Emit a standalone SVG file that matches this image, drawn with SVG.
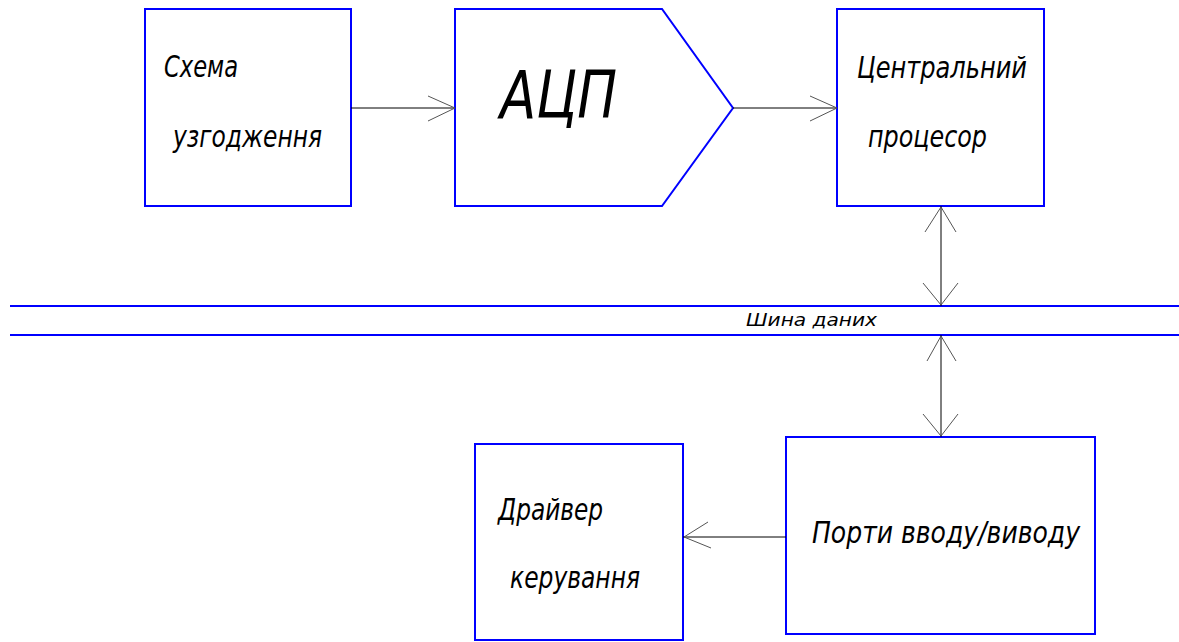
<svg xmlns="http://www.w3.org/2000/svg" width="1179" height="642" viewBox="0 0 1179 642">
<style>
.box{fill:#fff;stroke:#0000ff;stroke-width:2}
.bus{stroke:#0000ff;stroke-width:2;fill:none}
.ln{stroke:#000;stroke-width:1;fill:none}
.ah{stroke:#555;stroke-width:1;fill:none}
.t{font-family:"Liberation Sans Narrow","DejaVu Sans Condensed","Liberation Sans",sans-serif;font-style:italic;fill:#000}
</style>
<rect width="1179" height="642" fill="#fff"/>
<g id="bus">
<line class="bus" x1="10" y1="306" x2="1179" y2="306"/>
<line class="bus" x1="10" y1="335" x2="1179" y2="335"/>
<text class="t" x="746" y="326" font-size="17" textLength="131" lengthAdjust="spacingAndGlyphs">Шина даних</text>
</g>
<g id="n1">
<rect class="box" x="145" y="9" width="206" height="197"/>
<text class="t" x="164" y="77" font-size="30" textLength="74" lengthAdjust="spacingAndGlyphs">Схема</text>
<text class="t" x="173" y="147" font-size="30" textLength="149" lengthAdjust="spacingAndGlyphs">узгодження</text>
</g>
<g id="n2">
<polygon class="box" points="455,9 662,9 733,108 662,206 455,206"/>
<text class="t" x="500" y="118" font-size="66" textLength="117" lengthAdjust="spacingAndGlyphs">АЦП</text>
</g>
<g id="n3">
<rect class="box" x="837" y="9" width="207" height="197"/>
<text class="t" x="857" y="78" font-size="30" textLength="170" lengthAdjust="spacingAndGlyphs">Центральний</text>
<text class="t" x="868" y="147" font-size="30" textLength="119" lengthAdjust="spacingAndGlyphs">процесор</text>
</g>
<g id="n4">
<rect class="box" x="786" y="437" width="309" height="197"/>
<text class="t" x="812" y="543" font-size="30" textLength="268" lengthAdjust="spacingAndGlyphs">Порти вводу/виводу</text>
</g>
<g id="n5">
<rect class="box" x="475" y="444" width="208" height="196"/>
<text class="t" x="498" y="520" font-size="30" textLength="105" lengthAdjust="spacingAndGlyphs">Драйвер</text>
<text class="t" x="510" y="588" font-size="30" textLength="130" lengthAdjust="spacingAndGlyphs">керування</text>
</g>
<g id="connectors">
<line class="ln" x1="351" y1="108" x2="455" y2="108"/>
<polyline class="ah" points="428,96 455,108 428,121"/>
<line class="ln" x1="733" y1="108" x2="837" y2="108"/>
<polyline class="ah" points="810,96 837,108 810,121"/>
<line class="ln" x1="941" y1="206" x2="941" y2="306"/>
<polyline class="ah" points="925,232 941,207 956,232"/>
<polyline class="ah" points="923,283 941,305 958,283"/>
<line class="ln" x1="941" y1="335" x2="941" y2="437"/>
<polyline class="ah" points="927,361 941,336 956,361"/>
<polyline class="ah" points="923,414 941,436 958,414"/>
<line class="ln" x1="786" y1="537" x2="683" y2="537"/>
<polyline class="ah" points="708,522 684,537 711,548"/>
</g>
</svg>
